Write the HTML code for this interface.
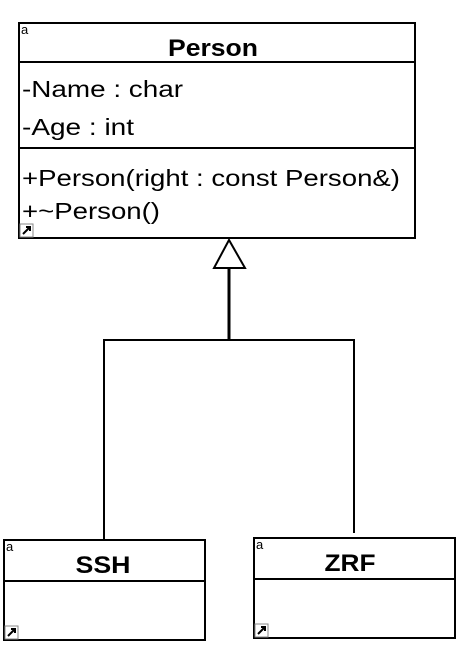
<!DOCTYPE html>
<html><head><style>html,body{margin:0;padding:0;background:#fff;}svg{display:block;}</style></head>
<body>
<svg width="461" height="655" viewBox="0 0 461 655" xmlns="http://www.w3.org/2000/svg" font-family="Liberation Sans, Arial, sans-serif">
<rect x="0" y="0" width="461" height="655" fill="#fff"/>
<!-- Person -->
<rect x="19" y="23" width="396" height="215" fill="#fff" stroke="#000" stroke-width="2"/>
<line x1="19" y1="62" x2="415" y2="62" stroke="#000" stroke-width="2"/>
<line x1="19" y1="148" x2="415" y2="148" stroke="#000" stroke-width="2"/>
<text x="21" y="34" font-size="13">a</text>
<text x="213" y="56" font-size="24" font-weight="bold" text-anchor="middle" textLength="90" lengthAdjust="spacingAndGlyphs">Person</text>
<text x="22" y="97" font-size="23.5" textLength="161" lengthAdjust="spacingAndGlyphs">-Name : char</text>
<text x="22" y="135" font-size="23.5" textLength="112" lengthAdjust="spacingAndGlyphs">-Age : int</text>
<text x="22" y="186" font-size="23.5" textLength="378" lengthAdjust="spacingAndGlyphs">+Person(right : const Person&amp;)</text>
<text x="22" y="219" font-size="23.5" textLength="138" lengthAdjust="spacingAndGlyphs">+~Person()</text>
<rect x="20" y="224" width="13" height="13" fill="#fff" stroke="#888" stroke-width="1"/>
<path d="M23 234 L30 227 M26 227 L30 227 L30 231" stroke="#000" stroke-width="2" fill="none"/>
<!-- connectors -->
<polygon points="229,240 214,268 245,268" fill="#fff" stroke="#000" stroke-width="2"/>
<line x1="229" y1="268" x2="229" y2="340" stroke="#000" stroke-width="3"/>
<polyline points="104,540 104,340 354,340 354,533" fill="none" stroke="#000" stroke-width="2"/>
<!-- SSH -->
<rect x="4" y="540" width="201" height="100" fill="#fff" stroke="#000" stroke-width="2"/>
<line x1="4" y1="581" x2="205" y2="581" stroke="#000" stroke-width="2"/>
<text x="6" y="551" font-size="13">a</text>
<text x="103" y="573" font-size="24" font-weight="bold" text-anchor="middle" textLength="55" lengthAdjust="spacingAndGlyphs">SSH</text>
<rect x="5" y="626" width="13" height="13" fill="#fff" stroke="#888" stroke-width="1"/>
<path d="M8 636 L15 629 M11 629 L15 629 L15 633" stroke="#000" stroke-width="2" fill="none"/>
<!-- ZRF -->
<rect x="254" y="538" width="201" height="100" fill="#fff" stroke="#000" stroke-width="2"/>
<line x1="254" y1="579" x2="455" y2="579" stroke="#000" stroke-width="2"/>
<text x="256" y="549" font-size="13">a</text>
<text x="350" y="571" font-size="24" font-weight="bold" text-anchor="middle" textLength="51" lengthAdjust="spacingAndGlyphs">ZRF</text>
<rect x="255" y="624" width="13" height="13" fill="#fff" stroke="#888" stroke-width="1"/>
<path d="M258 634 L265 627 M261 627 L265 627 L265 631" stroke="#000" stroke-width="2" fill="none"/>
</svg>
</body></html>
